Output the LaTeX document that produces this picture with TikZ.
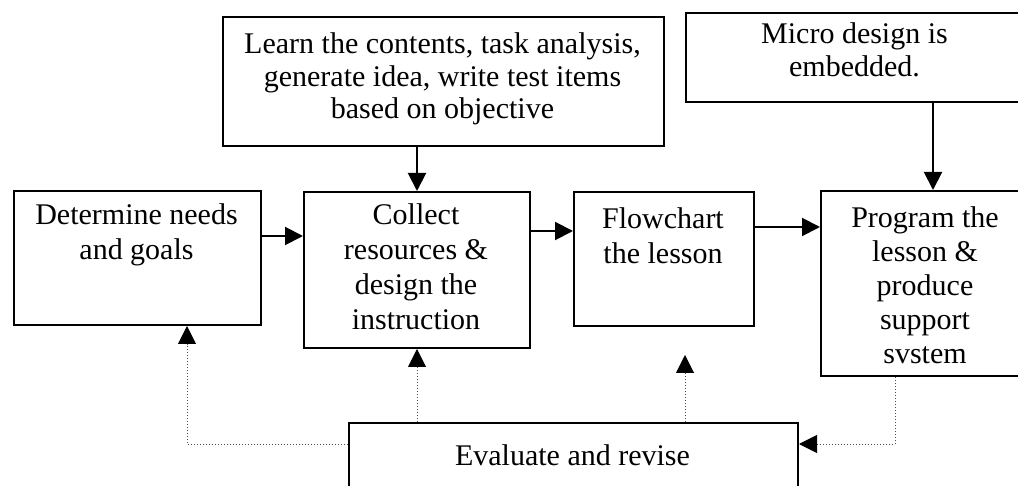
\documentclass[tikz,border=0pt]{standalone}
\usepackage{fontspec}
\setmainfont{Liberation Serif}
\usetikzlibrary{arrows.meta,calc}
\begin{document}
\begin{tikzpicture}[x=1pt,y=-1pt,
  box/.style={draw, line width=2pt, anchor=north west, inner sep=0pt},
  txt/.style={anchor=north, align=center, inner sep=0pt, font=\fontsize{30}{35}\selectfont},
  txtb/.style={txt, font=\fontsize{30}{32.5}\selectfont},
  arr/.style={line width=2pt, -{Triangle[length=18pt,width=18pt]}},
  darr/.style={line width=1pt, dotted, black!70, -{Triangle[length=18pt,width=18pt,color=black]}}]
\useasboundingbox (0,0) rectangle (1018,486);
\clip (0,0) rectangle (1018,486);
% boxes
\node[box, minimum width=441, minimum height=129] (L) at (222,16) {};
\node[box, minimum width=339, minimum height=89] (M) at (685,12) {};
\node[box, minimum width=247, minimum height=134] (A) at (13,190) {};
\node[box, minimum width=226, minimum height=156] (B) at (303,191) {};
\node[box, minimum width=180, minimum height=134] (C) at (573,191) {};
\node[box, minimum width=210, minimum height=185] (D) at (820,190) {};
\node[box, minimum width=449, minimum height=90] (E) at (348,422) {};
% texts
\node[txtb] (Lt) at (442.5,32.5) {Learn the contents, task analysis,\\generate idea, write test items\\based on objective};
\node[txtb] (Mt) at (854.5,22.5) {Micro design is\\embedded.};
\node[txt] (At) at (136.5,203.5) {Determine needs\\and goals};
\node[txt] (Bt) at (416,203.5) {Collect\\resources \&\\design the\\instruction};
\node[txt] (Ct) at (663,207.5) {Flowchart\\the lesson};
\node[txt, font=\fontsize{30}{34}\selectfont] (Dt) at (925,206.5) {Program the\\lesson \&\\produce\\support\\svstem};
\node[txt] (Et) at (572.5,444.5) {Evaluate and revise};
% helper coordinates
\coordinate (r1) at (0,236);
\coordinate (r2) at (0,231);
\coordinate (r3) at (0,227);
\coordinate (r4) at (0,444);
\coordinate (xa) at (187,0);
\coordinate (xc) at (685,0);
\coordinate (xm) at (933,0);
\coordinate (xd) at (895,0);
% solid arrows
\draw[arr] (A.east |- r1) -- (B.west |- r1);
\draw[arr] (B.east |- r2) -- (C.west |- r2);
\draw[arr] (C.east |- r3) -- (D.west |- r3);
\draw[arr] (L.south -| B.north) -- (B.north);
\draw[arr] (M.south -| xm) -- (D.north -| xm);
% dotted feedback arrows
\draw[darr] (E.west |- r4) -| (A.south -| xa);
\draw[darr] (E.north -| B.south) -- (B.south);
\draw[darr, shorten >=28pt] (E.north -| xc) -- (C.south -| xc);
\draw[darr] (D.south -| xd) |- (E.east |- r4);
\end{tikzpicture}
\end{document}
